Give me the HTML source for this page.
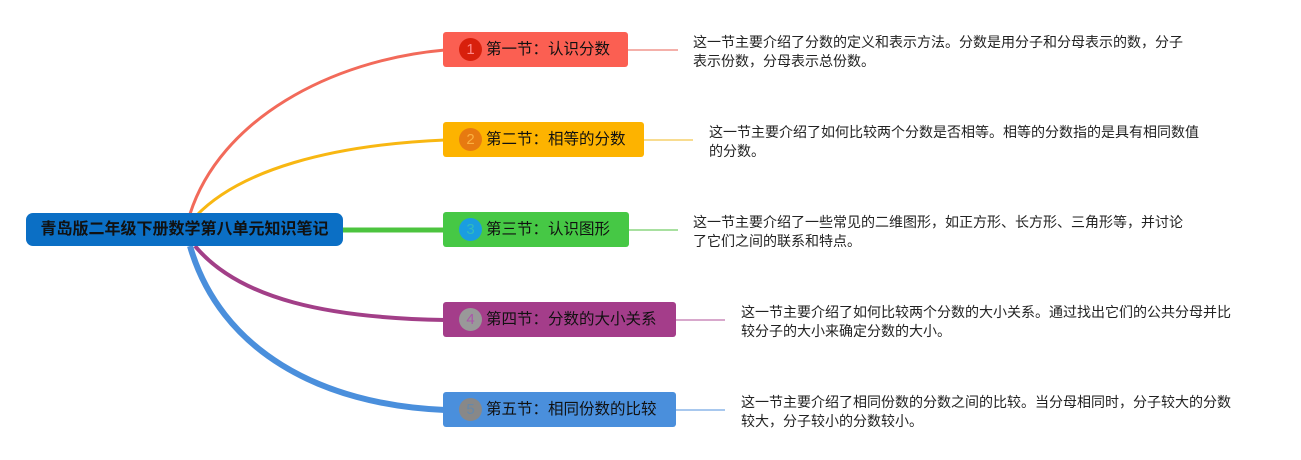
<!DOCTYPE html>
<html><head><meta charset="utf-8"><style>
body{margin:0;width:1301px;height:460px;background:#fff;position:relative;overflow:hidden;font-family:"Liberation Sans","Noto Sans CJK SC",sans-serif}
.n{position:absolute;height:35px;border-radius:3px;box-sizing:border-box;font-size:15.5px;color:#111;line-height:35px;padding-left:43px;white-space:nowrap}
.c{position:absolute;left:16px;top:6px;width:23px;height:23px;border-radius:50%;font-size:15px;line-height:23px;text-align:center}
.d{position:absolute;font-size:14px;line-height:19px;color:#222;width:520px;white-space:nowrap}
.r{position:absolute;left:26px;top:213px;width:317px;height:33px;background:#0b6fc5;border-radius:7px;font-weight:bold;font-size:16px;line-height:33px;text-align:center;color:#111;white-space:nowrap}
</style></head><body>
<svg width="1301" height="460" style="position:absolute;left:0;top:0" fill="none">
<path d="M190 214 C220 120 330 60 445 50" stroke="#f26a5a" stroke-width="3"/>
<path d="M196 216 C240 170 330 145 445 140" stroke="#f8b712" stroke-width="3"/>
<path d="M343 230 L445 230" stroke="#4cc43f" stroke-width="5"/>
<path d="M195 246 C240 300 330 318 445 320" stroke="#a23f88" stroke-width="4"/>
<path d="M190 246 C220 350 320 405 445 410" stroke="#4a8fdc" stroke-width="6"/>
<path d="M628 50 H678" stroke="#f4b0aa" stroke-width="2"/>
<path d="M644 140 H693" stroke="#f8dc90" stroke-width="2"/>
<path d="M629 230 H678" stroke="#a8e0a0" stroke-width="2"/>
<path d="M676 320 H725" stroke="#d8a8cc" stroke-width="2"/>
<path d="M676 410 H725" stroke="#a8c8ee" stroke-width="2"/>
</svg>
<div class="r">青岛版二年级下册数学第八单元知识笔记</div>
<div class="n" style="left:443px;top:32px;width:185px;background:#fb5f52"><span class="c" style="background:#d8200c;color:#f88">1</span>第一节：认识分数</div>
<div class="n" style="left:443px;top:122px;width:201px;background:#fdb300"><span class="c" style="background:#e77a10;color:#fbb040">2</span>第二节：相等的分数</div>
<div class="n" style="left:443px;top:212px;width:186px;background:#46c845"><span class="c" style="background:#1a9de0;color:#3bb">3</span>第三节：认识图形</div>
<div class="n" style="left:443px;top:302px;width:233px;background:#a43d8a"><span class="c" style="background:#999;color:#a5a">4</span>第四节：分数的大小关系</div>
<div class="n" style="left:443px;top:392px;width:233px;background:#4a8fdc"><span class="c" style="background:#888;color:#68a">5</span>第五节：相同份数的比较</div>
<div class="d" style="left:693px;top:33px">这一节主要介绍了分数的定义和表示方法。分数是用分子和分母表示的数，分子<br>表示份数，分母表示总份数。</div>
<div class="d" style="left:709px;top:123px">这一节主要介绍了如何比较两个分数是否相等。相等的分数指的是具有相同数值<br>的分数。</div>
<div class="d" style="left:693px;top:213px">这一节主要介绍了一些常见的二维图形，如正方形、长方形、三角形等，并讨论<br>了它们之间的联系和特点。</div>
<div class="d" style="left:741px;top:303px">这一节主要介绍了如何比较两个分数的大小关系。通过找出它们的公共分母并比<br>较分子的大小来确定分数的大小。</div>
<div class="d" style="left:741px;top:393px">这一节主要介绍了相同份数的分数之间的比较。当分母相同时，分子较大的分数<br>较大，分子较小的分数较小。</div>
</body></html>
